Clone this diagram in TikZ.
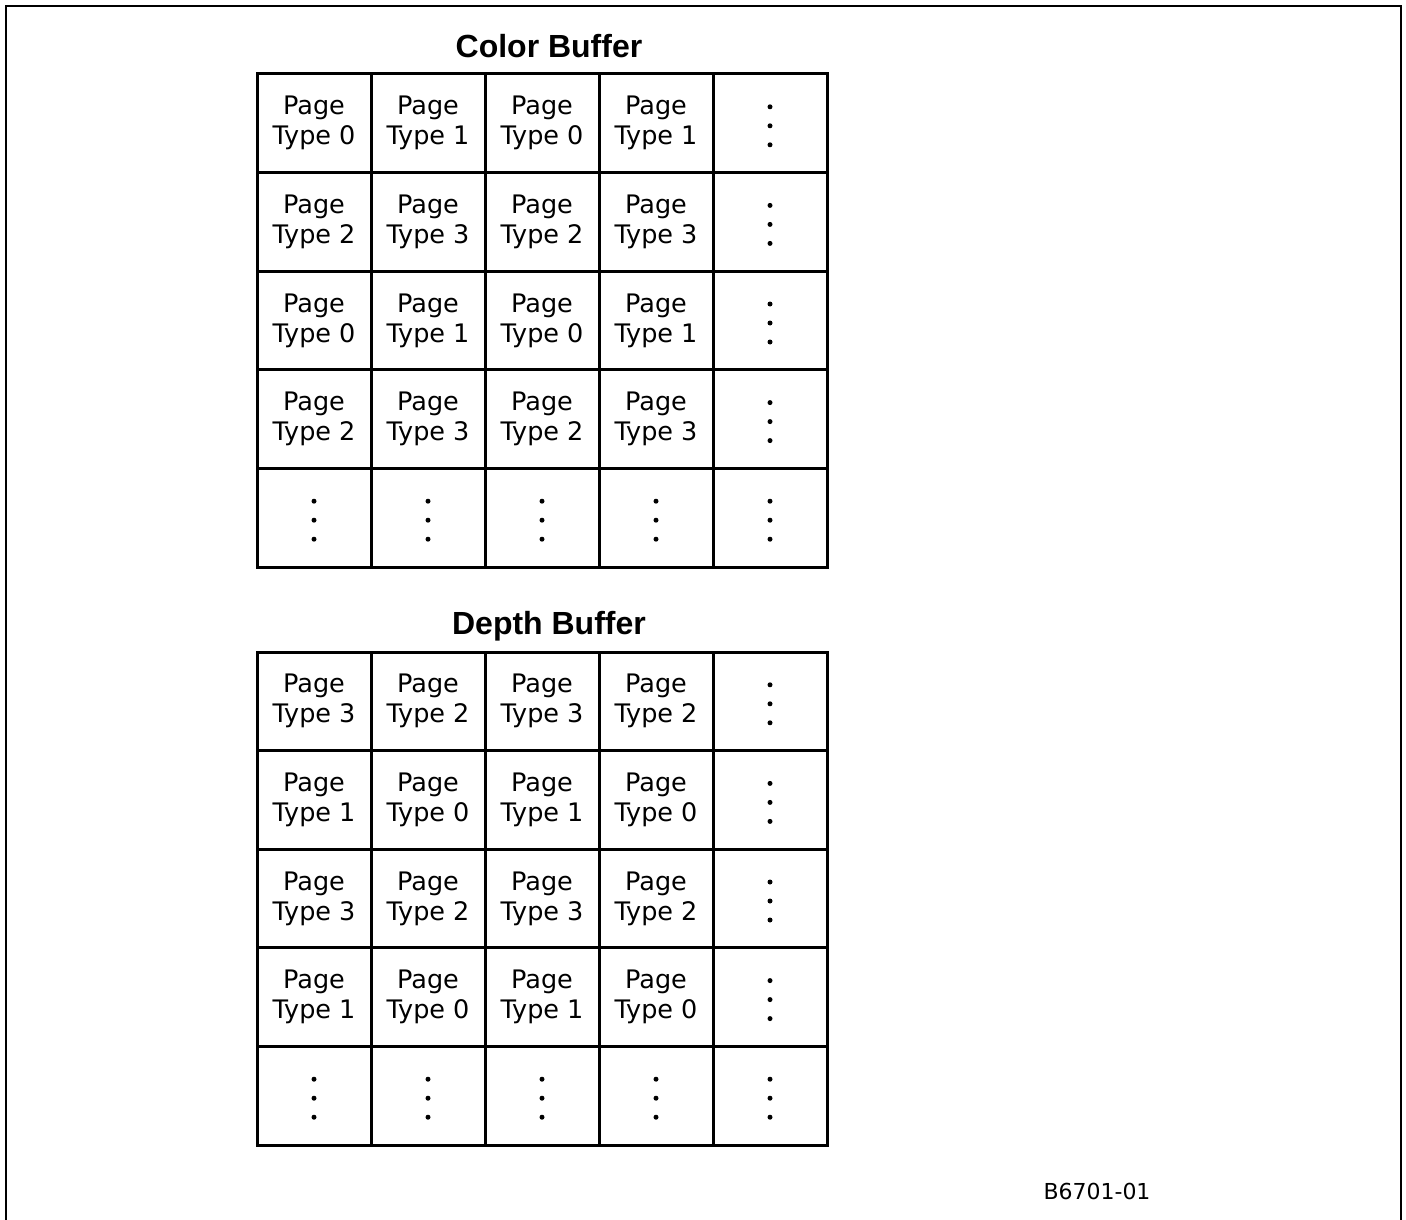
\documentclass[tikz,border=0pt]{standalone}
\usepackage{fontspec}
\setmainfont{DejaVu Sans}
\newfontfamily\titlefont{Liberation Sans}
\begin{document}
\begin{tikzpicture}[x=1pt,y=-1pt,
  cell/.style={draw, line width=3pt, minimum width=114pt, minimum height=98.6pt,
    inner sep=0pt, align=center, font=\fontsize{25.5}{30}\selectfont},
  dotcell/.style={cell, path picture={
    \foreach \d in {-19,0,19} \fill ([yshift=-2.5pt-\d pt]path picture bounding box.center) circle (2.5pt);}},
  title/.style={font=\titlefont\bfseries\fontsize{32}{36}\selectfont},
  frame/.style={line width=2.5pt}]
\useasboundingbox (0,0) rectangle (1406,1220);
\draw[frame] (6,1220) -- (6,6) -- (1401,6) -- (1401,1220);
\node[title] (ctitle) at (549,46) {Color Buffer};
\node[title] (dtitle) at (549,626) {Depth Buffer};
\node[font=\fontsize{22}{26}\selectfont] (label) at (1097,1191) {B6701-01};
% Color buffer
\foreach \r/\a/\b in {1/0/1,2/2/3,3/0/1,4/2/3}{
  \foreach \c/\t in {1/\a,2/\b,3/\a,4/\b}{
    \node[cell] (c-\r-\c) at (257+114*\c-57, 74+98.6*\r-49.3) {Page\\Type \t};
  }
  \node[dotcell] (c-\r-5) at (257+114*5-57, 74+98.6*\r-49.3) {};
}
\foreach \c in {1,...,5}{
  \node[dotcell] (c-5-\c) at (257+114*\c-57, 74+98.6*5-49.3) {};
}
% Depth buffer
\foreach \r/\a/\b in {1/3/2,2/1/0,3/3/2,4/1/0}{
  \foreach \c/\t in {1/\a,2/\b,3/\a,4/\b}{
    \node[cell] (d-\r-\c) at (257+114*\c-57, 652+98.6*\r-49.3) {Page\\Type \t};
  }
  \node[dotcell] (d-\r-5) at (257+114*5-57, 652+98.6*\r-49.3) {};
}
\foreach \c in {1,...,5}{
  \node[dotcell] (d-5-\c) at (257+114*\c-57, 652+98.6*5-49.3) {};
}
\end{tikzpicture}
\end{document}
